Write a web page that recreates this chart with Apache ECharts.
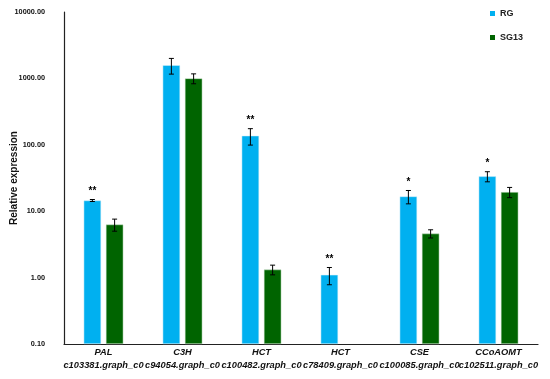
<!DOCTYPE html>
<html><head><meta charset="utf-8">
<script src="https://cdn.jsdelivr.net/npm/echarts@6/dist/echarts.min.js"></script>
<style>html,body{margin:0;padding:0;background:#fff}#c{width:550px;height:379px}</style>
</head><body><div id="c"></div>
<script>
var genes = ['PAL','C3H','HCT','HCT','CSE','CCoAOMT'];
var ids = ['c103381.graph_c0','c94054.graph_c0','c100482.graph_c0','c78409.graph_c0','c100085.graph_c0','c102511.graph_c0'];
var rgValues = [14.5, 1580, 137, 1.1, 16.7, 33.5];
var rgErrors = [0.5, 420, 38, 0.32, 3.8, 5.8];
var sgValues = [6.3, 1000, 1.32, null, 4.6, 19.4];
var sgErrors = [1.3, 170, 0.22, null, 0.65, 3.4];
var rgSig = ['**','','**','**','*','*'];
var sgSig = ['','','','','',''];
var yTicks = [0.1, 1, 10, 100, 1000, 10000];

var font = 'Arial, "Liberation Sans", sans-serif';
var BW = 0.22, GAP = 0.28;

function errSeries(name, vals, errs, sig, side) {
  var data = vals.map(function (v, i) { return [i, v, errs[i], sig[i]]; }).filter(function (d) { return d[1] != null; });
  return {
    type: 'custom', name: name + '_err', silent: true, z: 5,
    data: data,
    encode: { x: 0, y: 1 },
    renderItem: function (params, api) {
      var i = api.value(0), v = api.value(1), e = api.value(2);
      var band = api.size([1, 0])[0];
      var bw = band * BW;
      var off = side * bw * (1 + GAP) / 2;
      var c = api.coord([i, v]);
      var x = c[0] + off;
      var yTop = api.coord([i, v + e])[1];
      var yBot = api.coord([i, Math.max(v - e, 0.1)])[1];
      var cap = 2.5;
      var st = { stroke: '#000', lineWidth: 1 };
      var children = [
        { type: 'line', shape: { x1: x, y1: yTop, x2: x, y2: yBot }, style: st },
        { type: 'line', shape: { x1: x - cap, y1: yTop, x2: x + cap, y2: yTop }, style: st },
        { type: 'line', shape: { x1: x - cap, y1: yBot, x2: x + cap, y2: yBot }, style: st }
      ];
      var s = data[params.dataIndex][3];
      if (s) {
        children.push({ type: 'text', style: { text: s, x: x, y: yTop - 3, align: 'center', verticalAlign: 'bottom', font: 'bold 10px ' + font, fill: '#000' } });
      }
      return { type: 'group', children: children };
    }
  };
}

var chart = echarts.init(document.getElementById('c'), null, { renderer: 'canvas' });
chart.setOption({
  animation: false,
  backgroundColor: '#fff',
  grid: { left: 64, right: 12, top: 12, bottom: 35, containLabel: false, outerBoundsMode: 'none' },
  legend: {
    orient: 'vertical', right: 22, top: 4, itemWidth: 5, itemHeight: 5, itemGap: 15,
    icon: 'rect', itemStyle: { borderWidth: 0 },
    textStyle: { fontFamily: font, fontWeight: 'bold', fontSize: 9, color: '#222' },
    data: ['RG', 'SG13']
  },
  xAxis: {
    type: 'category', data: genes.map(function (g, i) { return g + '\n' + ids[i]; }),
    axisLine: { lineStyle: { color: '#222', width: 1.2 } },
    axisTick: { show: false },
    axisLabel: { interval: 0, margin: 2, fontFamily: font, fontWeight: 'bold', fontStyle: 'italic', fontSize: 9.3, color: '#111', lineHeight: 13 }
  },
  yAxis: {
    type: 'log', logBase: 10, min: 0.1, max: 10000, startValue: 0.1,
    name: 'Relative expression', nameLocation: 'middle', nameGap: 45, nameMoveOverlap: false,
    nameTextStyle: { fontFamily: font, fontWeight: 'bold', fontSize: 10, color: '#111' },
    axisLine: { show: true, lineStyle: { color: '#222', width: 1.2 } },
    axisTick: { show: false },
    splitLine: { show: false },
    axisLabel: { margin: 19, fontFamily: font, fontWeight: 'bold', fontSize: 7.3, color: '#111',
      formatter: function (v) { return Number(v).toFixed(2); } }
  },
  series: [
    { name: 'RG', type: 'bar', data: rgValues, barWidth: (BW * 100) + '%', barGap: (GAP * 100) + '%',
      itemStyle: { color: '#00B0F0', borderColor: '#d6f0fa', borderWidth: 0.5 } },
    { name: 'SG13', type: 'bar', data: sgValues, barWidth: (BW * 100) + '%', barGap: (GAP * 100) + '%',
      itemStyle: { color: '#006400', borderColor: '#cfe3cf', borderWidth: 0.5 } },
    errSeries('RG', rgValues, rgErrors, rgSig, -1),
    errSeries('SG13', sgValues, sgErrors, sgSig, 1)
  ]
});
</script></body></html>
